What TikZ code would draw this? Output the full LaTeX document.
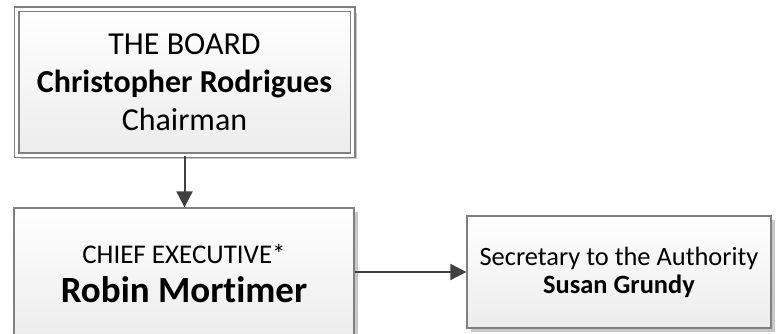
\documentclass[tikz,border=0pt]{standalone}
\usepackage{fontspec}
\setmainfont[Ligatures=NoCommon]{Carlito}
\usetikzlibrary{shadows,arrows.meta}
\definecolor{boxline}{RGB}{128,128,128}
\definecolor{arrowcol}{RGB}{64,64,64}
\definecolor{shadowcol}{RGB}{200,200,200}
\definecolor{fillbottom}{RGB}{236,236,236}
\tikzset{
  orgbox/.style={draw=boxline, line width=1.3pt, rectangle, align=center,
    top color=white, bottom color=fillbottom, inner sep=0pt,
    general shadow={fill=shadowcol, shadow xshift=4pt, shadow yshift=-4pt}},
  link/.style={draw=arrowcol, line width=2pt,
    -{Triangle[length=16pt,width=16pt]}}
}
\begin{document}
\begin{tikzpicture}[x=1pt,y=1pt]
\useasboundingbox (0,0) rectangle (779,334);
\node[orgbox, double=white, double distance=3.4pt,
      minimum width=336pt, minimum height=146pt,
      font=\fontsize{32}{38}\selectfont] (board) at (184.5,251.5)
  {THE BOARD\\ \textbf{Christopher Rodrigues}\\ Chairman};
\node[orgbox, minimum width=340pt, minimum height=132pt,
      font=\fontsize{27}{39}\selectfont] (ceo) at (184,60)
  {CHIEF EXECUTIVE*\\ {\fontsize{37}{39}\selectfont\bfseries Robin Mortimer}};
\node[orgbox, minimum width=304pt, minimum height=112pt,
      font=\fontsize{26.4}{28}\selectfont] (sec) at (619,62)
  {Secretary to the Authority\\ \textbf{Susan Grundy}};
\draw[link] (board.south) -- (board.south |- ceo.north);
\draw[link] (ceo.east |- sec.west) -- (sec.west);
\end{tikzpicture}
\end{document}
